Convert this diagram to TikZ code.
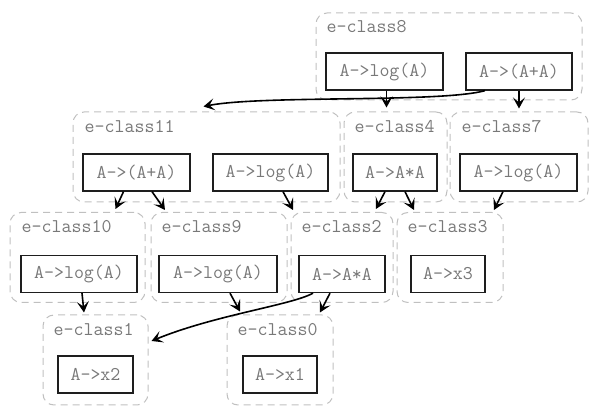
\documentclass[tikz,border=0pt]{standalone}
\usepackage{fontspec}
\usetikzlibrary{arrows.meta}
\definecolor{txtgrey}{RGB}{120,120,120}
\definecolor{clsgrey}{RGB}{192,192,192}
\definecolor{boxdark}{RGB}{30,30,30}
\begin{document}
\begin{tikzpicture}[x=1pt,y=1pt,
  cls/.style={draw=clsgrey, line width=1pt, dash pattern=on 7pt off 5pt, rounded corners=11pt, minimum height=90pt, inner sep=0pt},
  enode/.style={draw=boxdark, line width=1.3pt, minimum height=37pt, inner sep=0pt, text=txtgrey, font=\ttfamily\fontsize{19.4}{22}\selectfont},
  lbl/.style={anchor=base west, inner sep=0pt, text=txtgrey, font=\ttfamily\fontsize{19.4}{22}\selectfont},
  edge/.style={draw=black, line width=1.6pt, -{Stealth[length=11pt,width=12pt,inset=5pt]}}]
\useasboundingbox (0,0) rectangle (598,415);
% clusters
\node[cls, minimum width=266pt, minimum height=87pt] (c8) at (449,358.5) {};
\node[cls, minimum width=267pt] (c11) at (206.5,258) {};
\node[cls, minimum width=103pt] (c4) at (395.5,258) {};
\node[cls, minimum width=138pt] (c7) at (519,258) {};
\node[cls, minimum width=135pt] (c10) at (77.5,157.5) {};
\node[cls, minimum width=136pt] (c9) at (219,157.5) {};
\node[cls, minimum width=102pt] (c2) at (342,157.5) {};
\node[cls, minimum width=106pt] (c3) at (450,157.5) {};
\node[cls, minimum width=105pt] (c1) at (95.5,55) {};
\node[cls, minimum width=106pt] (c0) at (280,55) {};
% labels
\node[lbl] (l8) at ([xshift=11pt,yshift=-20pt]c8.north west) {e-class8};
\node[lbl] (l11) at ([xshift=12pt,yshift=-21pt]c11.north west) {e-class11};
\node[lbl] (l4) at ([xshift=11pt,yshift=-21pt]c4.north west) {e-class4};
\node[lbl] (l7) at ([xshift=12pt,yshift=-21pt]c7.north west) {e-class7};
\node[lbl] (l10) at ([xshift=12pt,yshift=-21pt]c10.north west) {e-class10};
\node[lbl] (l9) at ([xshift=11pt,yshift=-21pt]c9.north west) {e-class9};
\node[lbl] (l2) at ([xshift=11pt,yshift=-21pt]c2.north west) {e-class2};
\node[lbl] (l3) at ([xshift=11pt,yshift=-21pt]c3.north west) {e-class3};
\node[lbl] (l1) at ([xshift=11pt,yshift=-21pt]c1.north west) {e-class1};
\node[lbl] (l0) at ([xshift=11pt,yshift=-21pt]c0.north west) {e-class0};
% e-nodes
\node[enode, minimum width=117pt] (b8a) at (384.5,343.5) {A->log(A)};
\node[enode, minimum width=106pt] (b8b) at (519,343.5) {A->(A+A)};
\node[enode, minimum width=107pt] (b11a) at (136.5,242.5) {A->(A+A)};
\node[enode, minimum width=115pt] (b11b) at (270.5,242.5) {A->log(A)};
\node[enode, minimum width=84pt] (b4) at (395,242.5) {A->A*A};
\node[enode, minimum width=117pt] (b7) at (518.5,242.5) {A->log(A)};
\node[enode, minimum width=116pt] (b10) at (79,141) {A->log(A)};
\node[enode, minimum width=118pt] (b9) at (218,141) {A->log(A)};
\node[enode, minimum width=86pt] (b2) at (342,141) {A->A*A};
\node[enode, minimum width=74pt] (b3) at (448,141) {A->x3};
\node[enode, minimum width=75pt] (b1) at (95.5,40.5) {A->x2};
\node[enode, minimum width=74pt] (b0) at (280,40.5) {A->x1};
% edges
\draw[edge] ([xshift=2pt]b8a.south) -- ([xshift=2pt,yshift=4pt]b8a.south |- c4.north);
\draw[edge] (b8b.south) -- ([yshift=3pt]b8b.south |- c7.north);
\draw[edge] ([xshift=-34pt]b8b.south) .. controls (440,312) and (262,320) .. ([xshift=-3pt,yshift=5pt]c11.north);
\draw[edge] ([xshift=-13pt]b11a.south) -- ([xshift=38pt,yshift=3pt]c10.north);
\draw[edge] ([xshift=15.5pt]b11a.south) -- ([xshift=-54pt,yshift=2pt]c9.north);
\draw[edge] ([xshift=12.5pt]b11b.south) -- ([xshift=-49pt,yshift=2pt]c2.north);
\draw[edge] ([xshift=-10pt]b4.south) -- ([xshift=34pt,yshift=3pt]c2.north);
\draw[edge] ([xshift=10pt]b4.south) -- ([xshift=-36pt,yshift=2pt]c3.north);
\draw[edge] ([xshift=-15.5pt]b7.south) -- ([xshift=44pt,yshift=2pt]c3.north);
\draw[edge] ([xshift=3pt]b10.south) -- ([xshift=-11.5pt,yshift=2pt]c1.north);
\draw[edge] ([xshift=12pt]b9.south) -- ([xshift=-40pt,yshift=3pt]c0.north);
\draw[edge] ([xshift=-12pt]b2.south) -- ([xshift=40pt,yshift=2pt]c0.north);
\draw[edge] ([xshift=-29pt]b2.south) .. controls (292,110) and (215,100) .. ([xshift=3pt,yshift=19pt]c1.east);
\end{tikzpicture}
\end{document}
